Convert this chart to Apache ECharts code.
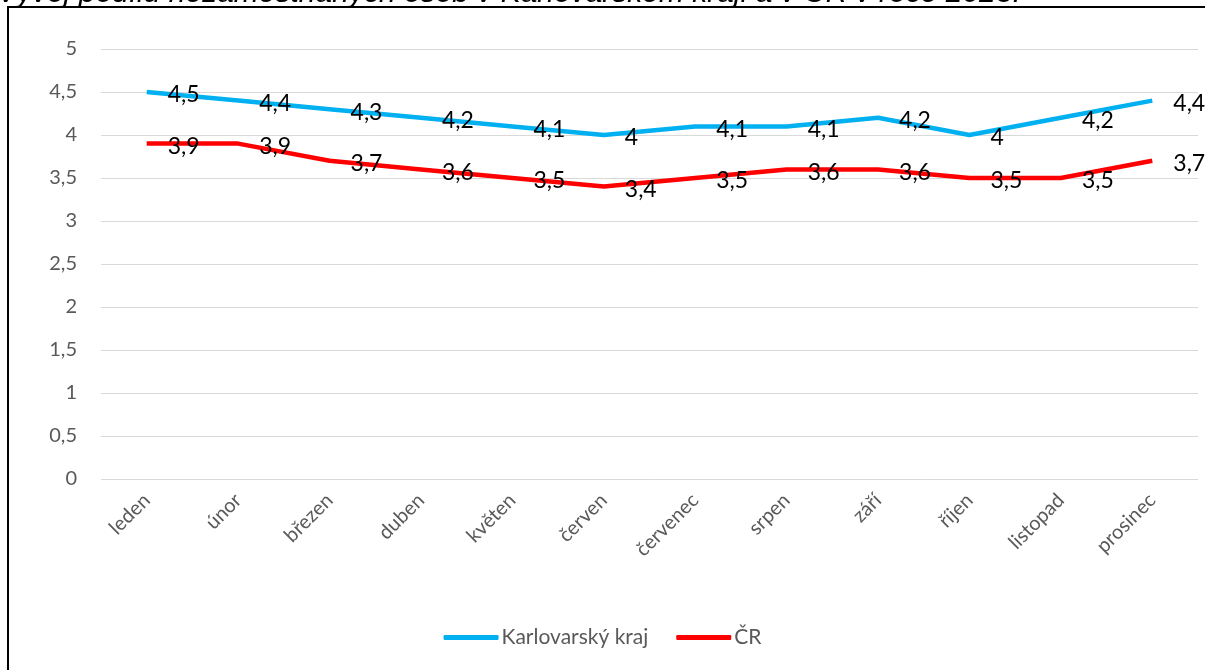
<!DOCTYPE html>
<html>
<head>
<meta charset="utf-8">
<script src="https://cdn.jsdelivr.net/npm/echarts@6/dist/echarts.min.js"></script>
<style>
html,body{margin:0;padding:0;background:#fff;}
#chart{width:1205px;height:670px;}
</style>
</head>
<body>
<div id="chart"></div>
<script>
const titleText = 'Vývoj podílu nezaměstnaných osob v Karlovarském kraji a v ČR v roce 2023.';
const categories = ['leden','únor','březen','duben','květen','červen','červenec','srpen','září','říjen','listopad','prosinec'];
const seriesNames = ['Karlovarský kraj','ČR'];
const karlovarsky = [4.5,4.4,4.3,4.2,4.1,4.0,4.1,4.1,4.2,4.0,4.2,4.4];
const cr = [3.9,3.9,3.7,3.6,3.5,3.4,3.5,3.6,3.6,3.5,3.5,3.7];
const yTicks = {min:0, max:5, interval:0.5};

const fmt = v => String(v).replace('.', ',');
const FONT = 'Lato, "Noto Sans", sans-serif';

const chart = echarts.init(document.getElementById('chart'));
const labelCfg = {
  show:true, position:'right', distance:21, offset:[0,3],
  color:'#000', fontSize:23, fontFamily:FONT,
  formatter: p => fmt(p.value)
};
chart.setOption({
  animation:false,
  graphic:[
    {type:'rect', shape:{x:8, y:7, width:1220, height:700}, style:{fill:'none', stroke:'#000', lineWidth:2}, z:-1},
    {type:'text', left:-3, top:-21.5, style:{text:titleText, font:'italic 30px "Liberation Sans", Arial, sans-serif', fill:'#000'}}
  ],
  grid:{left:101, right:7, top:49, bottom:191, containLabel:false},
  legend:{
    bottom:17, left:'center', itemWidth:55, itemHeight:5, itemGap:28,
    icon:'roundRect',
    textStyle:{color:'#595959', fontSize:21, fontFamily:FONT, padding:[0,0,0,-2]},
    data:seriesNames
  },
  xAxis:{
    type:'category', data:categories, boundaryGap:true,
    axisLine:{show:false}, axisTick:{show:false},
    axisLabel:{rotate:45, color:'#595959', fontSize:20, fontFamily:FONT, margin:18, interval:0}
  },
  yAxis:{
    type:'value', min:yTicks.min, max:yTicks.max, interval:yTicks.interval,
    axisLine:{show:false}, axisTick:{show:false},
    splitLine:{lineStyle:{color:'#D9D9D9', width:1}},
    axisLabel:{color:'#595959', fontSize:20, fontFamily:FONT, margin:24, formatter: v => fmt(v)}
  },
  series:[
    {name:seriesNames[0], type:'line', data:karlovarsky, symbol:'circle', symbolSize:0, showSymbol:true,
     lineStyle:{color:'#00B0F0', width:4.5}, itemStyle:{color:'#00B0F0'}, label:labelCfg},
    {name:seriesNames[1], type:'line', data:cr, symbol:'circle', symbolSize:0, showSymbol:true,
     lineStyle:{color:'#FF0000', width:4.5}, itemStyle:{color:'#FF0000'}, label:labelCfg}
  ]
});
</script>
</body>
</html>
